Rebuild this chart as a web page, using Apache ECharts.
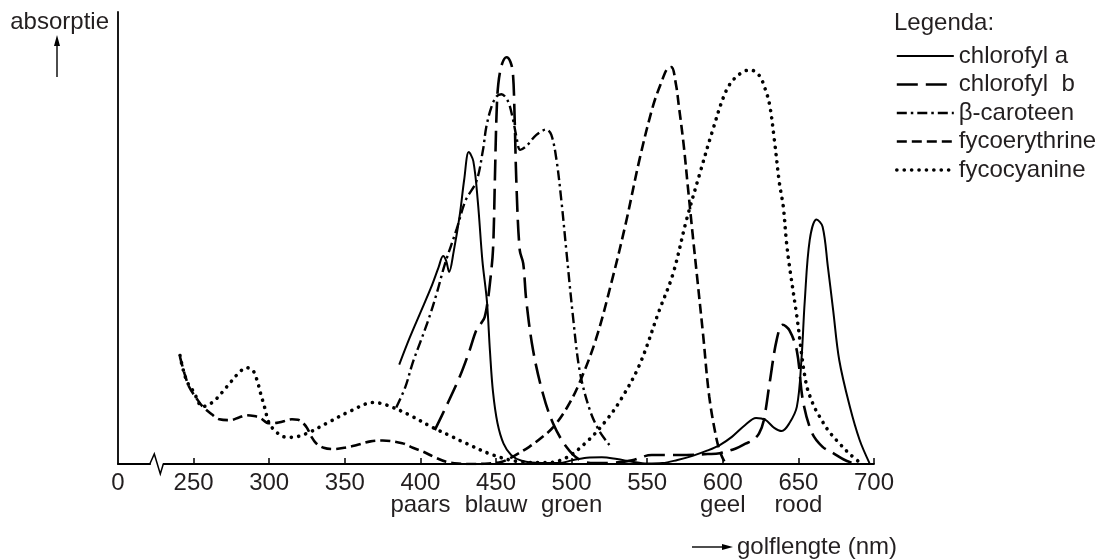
<!DOCTYPE html>
<html>
<head>
<meta charset="utf-8">
<script src="https://cdn.jsdelivr.net/npm/echarts@6/dist/echarts.min.js"></script>
<style>
html,body{margin:0;padding:0;background:#fff;}
#chart{width:1106px;height:560px;}
</style>
</head>
<body>
<div id="chart"></div>
<script>
// ---- data: [wavelength (nm), absorption (relative units)] ----
const chlorofylA = [[386,22],[393,28],[400,33.5],[407,39],[412,43.5],[415,46],[417,45],[419,42.5],[422,47],[426,55],[429,63],[432,69],[435,67],[438,58],[441,45],[444,36],[446,25],[448,16],[451,9],[455,4.5],[460,2],[467,0.7],[480,0.2],[492,0.2],[500,0.8],[510,1.4],[520,1.5],[530,1.1],[540,0.5],[550,0.1],[560,0.2],[570,0.9],[580,1.8],[590,3],[598,4.2],[606,6],[615,8.7],[622,10.2],[628,9.8],[634,8],[639,7.3],[644,9],[649,12.7],[652,23],[654.2,36],[657.5,49.6],[662,54.1],[666,52.5],[669.5,43.6],[673,34],[677,23],[684,12.7],[690.5,5.3],[697,0.2]];
const chlorofylB = [[409.5,7.5],[417,12.7],[426,19.3],[432.6,25.2],[437,29.6],[440.3,31.2],[442.5,32.5],[444.5,36],[446,40],[448,47.3],[449.2,62],[450.3,76.8],[451.5,84],[454,88.5],[457,90],[459.5,89],[461.2,86.4],[462.3,76.8],[463.5,62],[465.7,47.3],[468,44.4],[470,36.3],[474.5,25.2],[481,15.6],[487.7,9],[496.5,3.8],[505.4,0.9],[515,0.2],[528,0.3],[540,0.8],[553,2],[565,2],[576,2],[590,2.2],[598,2.4],[609,3.5],[615,4.5],[620,5.3],[624,6.8],[627,9.5],[631,18],[635.6,27.4],[639.6,30.8],[644,29.6],[649,25],[653,14],[659,6.9],[666,3.8],[673,2.4],[680,1],[686,0.2]];
const betaCaroteen = [[384,12.5],[390,17],[395,22.5],[400,27],[406,32.6],[411,38],[416,44],[424,52],[430,58.4],[437,62.5],[441.4,69.5],[443.6,74.6],[447,79],[450.3,81.3],[453.6,81.8],[458,80.2],[461.3,76.1],[463.5,72.4],[466,69.5],[470,70.3],[476.7,72.8],[483.3,74],[486.6,72.8],[490,67.3],[493.2,58.4],[496.5,47.3],[500.8,33],[505.4,20.5],[512,12],[518,7.5],[525,4.2]];
const fycoerythrine = [[241,23.7],[244,20],[247,17.1],[252,14.5],[256,12.7],[262,11],[267,9.9],[274,9.7],[280,10.3],[285,10.8],[290,10.6],[294,10.2],[300,9],[305,9.1],[309,9.4],[315,9.9],[319,9.8],[322,9.2],[325,8],[328,6],[331,4.6],[336,3.6],[342,3.3],[350,3.6],[358,4.2],[367,5],[375,5.2],[388,4.6],[395,3.6],[402,2.7],[410,1.4],[417,0.5],[425,0.1],[435,0],[445,0.1],[454,0.5],[461,1.6],[472,3.8],[480,5.8],[488,8.2],[497,12.5],[505,17.8],[516,27.5],[527,41],[536,53.5],[545,67.5],[554,79.4],[560,85],[563,87.3],[566,87.8],[569,84],[571,79],[574,71],[577,61],[580,51],[583,41.4],[587,28.5],[591,15],[596,5.3],[599,2],[601,0.6]];
const fycocyanine = [[241,24],[243,21],[246,18],[250,16],[256,12.7],[263,13.8],[272,17.1],[280,20.2],[285,21.3],[289,20.8],[292,18.5],[294,16],[297,12.5],[300,9],[305,7],[310,6],[315,5.9],[325,6.8],[338,9],[353,11.6],[369,13.6],[378,13],[393,10.8],[408,8.1],[420,6.2],[430,4.6],[448,2],[466,0.5],[483,0.3],[496,1.3],[510,4.9],[523,9.7],[533,14.5],[545,22],[558,34],[567,42],[576,54],[585,64.5],[593,73.5],[602,82.4],[609,85.7],[618,87.2],[624,86],[628,83],[631,79.4],[634,72],[637.5,62],[640,57],[642,49.5],[644,44],[649,32.6],[655,18],[660,13],[664,10.5],[670,7.3],[677,4.6],[684,2.2],[690,0.5]];

const seriesNames = ['chlorofyl a', 'chlorofyl  b', 'β-caroteen', 'fycoerythrine', 'fycocyanine'];
const tickValues = [250, 300, 350, 400, 450, 500, 550, 600, 650, 700];
const labelValues = [200, 250, 300, 350, 400, 450, 500, 550, 600, 650, 700];
const originLabel = '0';
const colorTicks = [400, 450, 500, 600, 650];
const colorNames = ['paars', 'blauw', 'groen', 'geel', 'rood'];
const yAxisTitle = 'absorptie';
const xAxisTitle = 'golflengte (nm)';
const legendTitle = 'Legenda:';
const breakAt = 225;

const FONT = '"Liberation Sans", Arial, Helvetica, sans-serif';
const TXT = '#231f20';
const FS = 24;

function lineSeries(name, data, width, dash, cap) {
  return {
    type: 'line', name: name, data: data, smooth: 0.35, symbol: 'none',
    lineStyle: { color: '#000', width: width, type: dash, cap: cap || 'butt' },
    itemStyle: { color: '#000' },
    emphasis: { disabled: true }
  };
}

const chart = echarts.init(document.getElementById('chart'), null, { renderer: 'canvas' });

const option = {
  animation: false,
  backgroundColor: '#fff',
  textStyle: { fontFamily: FONT },
  grid: { left: 118, right: 232, top: 12, bottom: 96, containLabel: false },
  title: {
    text: legendTitle, left: 894, top: 11, padding: 0,
    textStyle: { fontSize: FS, fontWeight: 'normal', color: TXT, fontFamily: FONT }
  },
  legend: {
    orient: 'vertical', left: 895, top: 44, padding: 0,
    itemWidth: 57, itemHeight: 14, itemGap: 4.5,
    itemStyle: { color: 'rgba(0,0,0,0)', borderWidth: 0, opacity: 0 },
    lineStyle: { width: 'inherit', type: 'inherit', cap: 'inherit' },
    textStyle: { fontSize: FS, color: TXT, fontFamily: FONT, lineHeight: 24 },
    data: seriesNames,
    selectedMode: false
  },
  xAxis: {
    type: 'value', min: 200, max: 700,
    axisLine: { lineStyle: { color: '#000', width: 1.8 } },
    axisTick: { inside: true, length: 6, customValues: tickValues, lineStyle: { color: '#000', width: 1.5 } },
    axisLabel: {
      customValues: labelValues, margin: 8,
      fontSize: FS, lineHeight: 22, color: TXT, fontFamily: FONT,
      formatter: function (v) {
        if (v === 200) return originLabel;
        const i = colorTicks.indexOf(v);
        return i >= 0 ? v + '\n' + colorNames[i] : String(v);
      }
    },
    splitLine: { show: false }
  },
  yAxis: {
    type: 'value', min: 0, max: 100,
    axisLine: { show: true, lineStyle: { color: '#000', width: 1.8 } },
    axisTick: { show: false }, axisLabel: { show: false }, splitLine: { show: false }
  },
  series: [
    lineSeries(seriesNames[0], chlorofylA, 2, 'solid'),
    lineSeries(seriesNames[1], chlorofylB, 2.6, [21, 8]),
    lineSeries(seriesNames[2], betaCaroteen, 2.4, [10, 4, 2.5, 4]),
    lineSeries(seriesNames[3], fycoerythrine, 2.6, [10, 5]),
    lineSeries(seriesNames[4], fycocyanine, 3.6, [0.1, 7.3], 'round')
  ]
};
chart.setOption(option);

const b = chart.convertToPixel({ gridIndex: 0 }, [breakAt, 0]);
chart.setOption({
  graphic: [
    { type: 'text', silent: true, style: { text: yAxisTitle, x: 109, y: 22, align: 'right', verticalAlign: 'middle', fontSize: FS, fontFamily: FONT, fill: TXT } },
    { type: 'line', silent: true, shape: { x1: 57, y1: 77, x2: 57, y2: 44 }, style: { stroke: '#000', lineWidth: 1.4 } },
    { type: 'polygon', silent: true, shape: { points: [[57, 35], [54, 46], [60, 46]] }, style: { fill: '#000' } },
    { type: 'text', silent: true, style: { text: xAxisTitle, x: 737, y: 547, align: 'left', verticalAlign: 'middle', fontSize: FS, fontFamily: FONT, fill: TXT } },
    { type: 'line', silent: true, shape: { x1: 692, y1: 547, x2: 724, y2: 547 }, style: { stroke: '#000', lineWidth: 1.4 } },
    { type: 'polygon', silent: true, shape: { points: [[733, 547], [722, 544], [722, 550]] }, style: { fill: '#000' } },
    { type: 'rect', silent: true, z: 100, shape: { x: b[0] - 5, y: b[1] - 3, width: 12, height: 6 }, style: { fill: '#fff' } },
    { type: 'polyline', silent: true, z: 101, shape: { points: [[b[0] - 6, b[1]], [b[0] - 1.5, b[1] - 10], [b[0] + 4.5, b[1] + 10], [b[0] + 7.5, b[1]]] }, style: { stroke: '#000', lineWidth: 1.5, fill: null } }
  ]
});
</script>
</body>
</html>
